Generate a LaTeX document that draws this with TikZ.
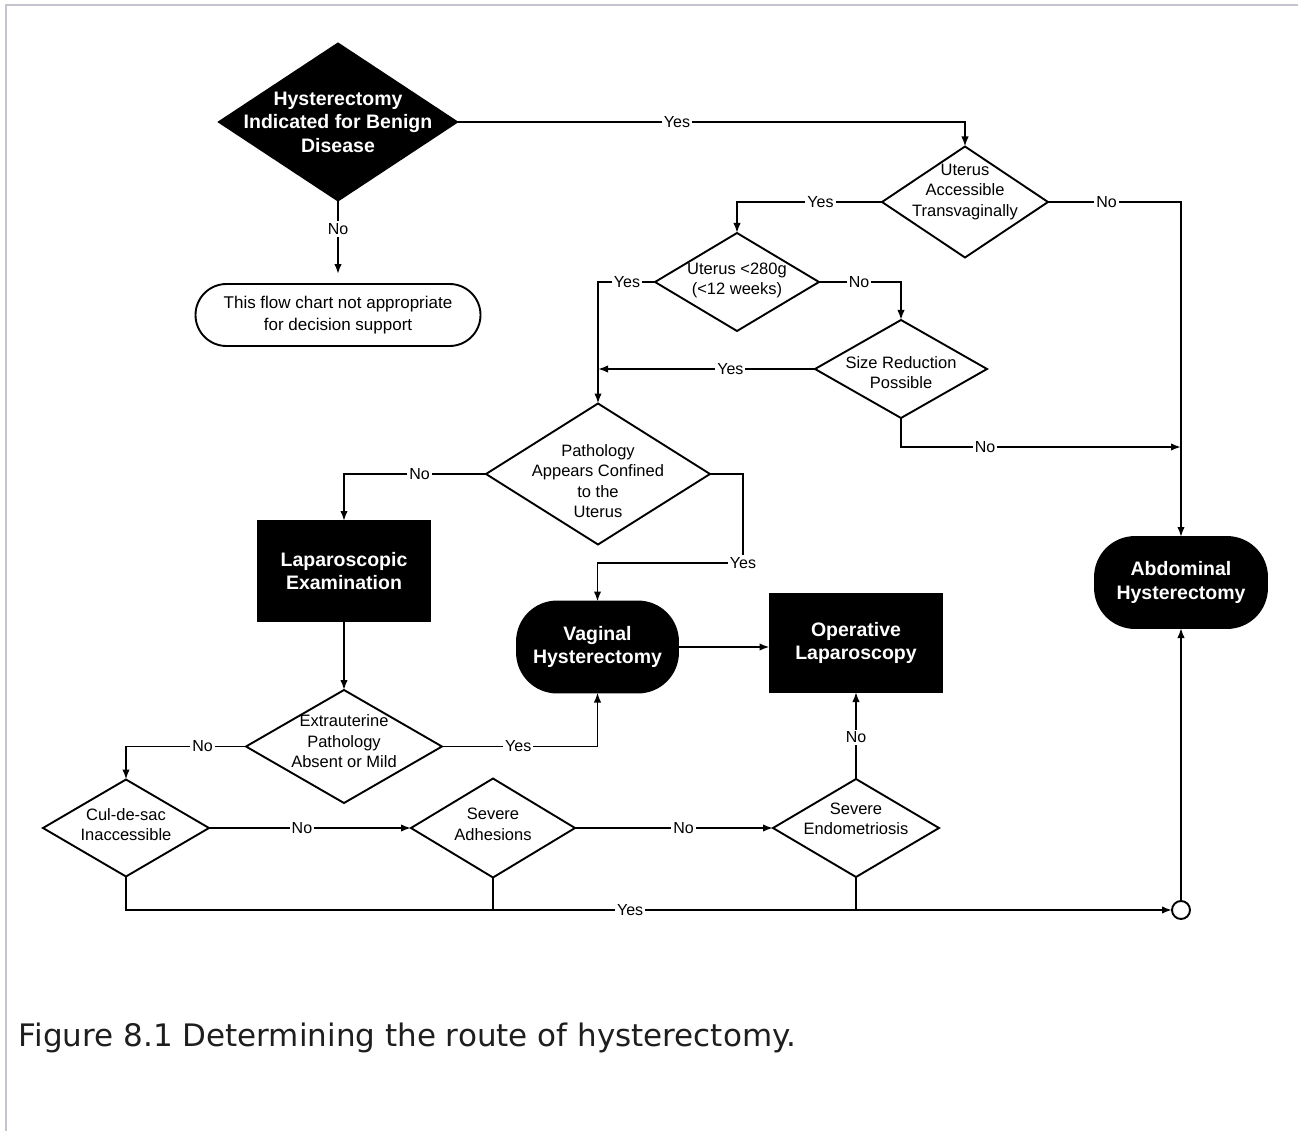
\documentclass[tikz,border=0pt]{standalone}
\usepackage{fontspec}
\setmainfont{Liberation Sans}
\newfontfamily\capfont{DejaVu Sans}
\usetikzlibrary{shapes.geometric,arrows.meta,calc}

\begin{document}
\begin{tikzpicture}[x=1pt,y=-1pt,
  line width=1.9pt,
  arr/.style={-{Latex[length=10pt,width=7.5pt]}},
  dia/.style={diamond, draw, fill=white, inner sep=0pt, outer sep=0pt},
  blk/.style={fill=black, draw=black, text=white, align=center,
    font=\fontsize{19.5}{23.5}\selectfont\bfseries, inner sep=0pt, outer sep=0pt},
  wtxt/.style={text=white, align=center, inner sep=0pt,
    font=\fontsize{19.5}{23.5}\selectfont\bfseries},
  txt/.style={align=center, inner sep=0pt, font=\fontsize{16.5}{20.5}\selectfont},
  lab/.style={fill=white, inner sep=2pt, font=\fontsize{16}{18}\selectfont},
]
\useasboundingbox (0,0) rectangle (1298,1131);

% page frame
\draw[line width=2pt, color={rgb,255:red,196;green,196;blue,206}]
  (6,1131) -- (6,5) -- (1298,5);

% decision and action nodes
\node[dia, fill=black, minimum width=238pt, minimum height=157pt,
  label={[wtxt]center:Hysterectomy\\Indicated for Benign\\Disease}] (start) at (338,122) {};
\node[draw, rounded corners=31pt, minimum width=285pt, minimum height=62pt,
  align=center, inner sep=0pt, font=\fontsize{17}{22}\selectfont] (fc) at (338,315)
  {This flow chart not appropriate\\for decision support};

\node[dia, minimum width=166pt, minimum height=111pt,
  label={[txt,yshift=10pt]center:Uterus\\Accessible\\Transvaginally}] (uac) at (965,202) {};
\node[dia, minimum width=164pt, minimum height=98pt,
  label={[txt,yshift=1.5pt]center:Uterus <280g\\(<12 weeks)}] (u280) at (737,282) {};
\node[dia, minimum width=172pt, minimum height=98pt,
  label={[txt,yshift=-3.5pt]center:Size Reduction\\Possible}] (size) at (901,369) {};
\node[dia, minimum width=224pt, minimum height=141pt,
  label={[txt,yshift=-7pt]center:Pathology\\Appears Confined\\to the\\Uterus}] (path) at (598,474) {};

\node[blk, minimum width=172pt, minimum height=100pt] (lap) at (344,571)
  {Laparoscopic\\Examination};
\node[blk, rounded corners=40pt, minimum width=161pt, minimum height=91pt] (vag) at (597.5,647)
  {Vaginal\\Hysterectomy};
\node[blk, minimum width=173pt, minimum height=98pt] (op) at (856,643)
  {Operative\\Laparoscopy};
\node[blk, rounded corners=40pt, minimum width=172pt, minimum height=91pt] (abd) at (1181,582.5)
  {Abdominal\\Hysterectomy};

\node[dia, minimum width=196pt, minimum height=113pt,
  label={[txt,yshift=5pt]center:Extrauterine\\Pathology\\Absent or Mild}] (ext) at (344,746.5) {};
\node[dia, minimum width=166pt, minimum height=97pt,
  label={[txt,yshift=3.5pt]center:Cul-de-sac\\Inaccessible}] (cul) at (126,828) {};
\node[dia, minimum width=164pt, minimum height=99pt,
  label={[txt,yshift=3.5pt]center:Severe\\Adhesions}] (adh) at (493,828) {};
\node[dia, minimum width=166pt, minimum height=98pt,
  label={[txt,yshift=9pt]center:Severe\\Endometriosis}] (endo) at (856,828) {};

\node[circle, draw, fill=white, minimum size=18pt, inner sep=0pt, outer sep=0pt]
  (circ) at (1181,910) {};

% free ends of connectors
\coordinate (nojoin) at (1181,447);
\coordinate (vagin) at (597.5,563);

% connectors
\draw[arr] (start.east) -| node[lab,pos=0.2165]{Yes} (uac.north);
\draw[arr, shorten >=9pt] (start.south) -- node[lab,pos=0.345]{No} (fc.north);
\draw[arr] (uac.east) -| node[lab,pos=0.22]{No} (abd.north);
\draw[arr] (uac.west) -| node[lab,pos=0.212]{Yes} (u280.north);
\draw[arr] (u280.east) -| node[lab,pos=0.244]{No} (size.north);
\draw[arr] (u280.west) -| node[lab,pos=0.246]{Yes} (path.north);
\draw[arr] (size.west) -- node[lab,pos=0.39]{Yes} (size.west -| path.north);
\draw[arr] (size.south) |- node[lab,pos=0.65]{No} (nojoin);
\draw[arr] (path.west) -| node[lab,pos=0.234]{No} (lap.north);
\draw[arr] (path.east) -- ++(33,0) |- node[lab,pos=0.5]{Yes} (vagin) -- (vag.north);
\draw[arr] (lap.south) -- (ext.north);
\draw[arr] (ext.east) -| node[lab,pos=0.245]{Yes} (vag.south);
\draw[arr] (ext.west) -| node[lab,pos=0.181]{No} (cul.north);
\draw[arr] (cul.east) -- node[lab,pos=0.46]{No} (adh.west);
\draw[arr] (adh.east) -- node[lab,pos=0.548]{No} (endo.west);
\draw[arr] (endo.north) -- node[lab,pos=0.477]{No} (op.south);
\draw[arr] (vag.east) -- (vag.east -| op.west);
\draw[arr] (cul.south) |- node[lab,pos=0.741]{Yes} (circ.west);
\draw (adh.south) -- (adh.south |- circ.west);
\draw (endo.south) -- (endo.south |- circ.west);
\draw[arr] (circ.north) -- (abd.south);

% caption
\node[anchor=base west, inner sep=0pt, text={rgb,255:red,30;green,30;blue,30},
  font=\capfont\fontsize{31}{36}\selectfont] (cap) at (18,1046)
  {Figure 8.1 Determining the route of hysterectomy.};
\end{tikzpicture}
\end{document}
